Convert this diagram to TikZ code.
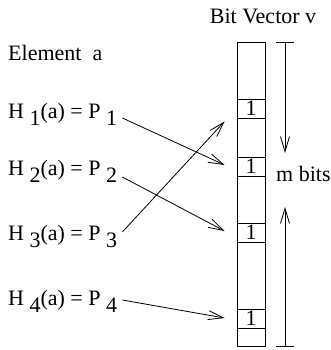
\documentclass[tikz,border=0pt]{standalone}
\usepackage{fontspec}
\setmainfont{Liberation Serif}
\usetikzlibrary{arrows.meta,positioning,calc}
\newcommand{\lowsub}[1]{\ \raisebox{-7pt}{#1}}

\begin{document}
\begin{tikzpicture}[x=1pt, y=-1pt,
    lbl/.style={font=\fontsize{22}{26}\selectfont, inner sep=0pt, anchor=base west},
    bitcell/.style={rectangle, draw, line width=0.9pt, minimum width=28pt,
        minimum height=19pt, inner sep=0pt, font=\fontsize{22}{24}\selectfont},
    arr/.style={-{Straight Barb[length=15pt,width=9pt]}, line width=0.8pt},
    dim/.style={line width=0.8pt}
]
    \useasboundingbox (0,0) rectangle (331,350);
    \node[lbl, anchor=base] (title) at (263,24) {Bit Vector v};
    \node[lbl] (elem) at (8,61) {Element\ \ a};
    \node[lbl] (h1) at (8,118) {H\lowsub{1}(a) = P\lowsub{1}};
    \node[lbl] (h2) at (8,175) {H\lowsub{2}(a) = P\lowsub{2}};
    \node[lbl] (h3) at (8,240) {H\lowsub{3}(a) = P\lowsub{3}};
    \node[lbl] (h4) at (8,305) {H\lowsub{4}(a) = P\lowsub{4}};

    \node[bitcell, minimum height=304pt] (vec) at (251,194) {};
    \node[bitcell] (c1) at (251,108.5) {\raisebox{-2pt}{1}};
    \node[bitcell] (c2) at (251,166.5) {\raisebox{-2pt}{1}};
    \node[bitcell] (c3) at (251,232.5) {\raisebox{-2pt}{1}};
    \node[bitcell] (c4) at (251,318.5) {\raisebox{-2pt}{1}};

    \draw[arr] ($(h1.base east)+(5,0)$) -- ($(c2.west)+(-12,-1.5)$);
    \draw[arr] ($(h2.base east)+(5,2)$) -- ($(c3.west)+(-12,-1.5)$);
    \draw[arr] ($(h3.base east)+(5,-8)$) -- ($(c1.south west)+(-12,3)$);
    \draw[arr] ($(h4.base east)+(5,-5)$) -- ($(c4.west)+(-12,-0.5)$);

    \coordinate (dtop) at (285,42);
    \coordinate (dbot) at (285,346);
    \node[lbl] (mbits) at (276,181) {m bits};
    \draw[dim] ([xshift=-9pt]dtop) -- ([xshift=9pt]dtop);
    \draw[dim] ([xshift=-9pt]dbot) -- ([xshift=9pt]dbot);
    \draw[arr] (dtop) -- ($(dtop)+(0,111)$);
    \draw[arr] (dbot) -- ($(dbot)+(0,-139)$);
\end{tikzpicture}
\end{document}
